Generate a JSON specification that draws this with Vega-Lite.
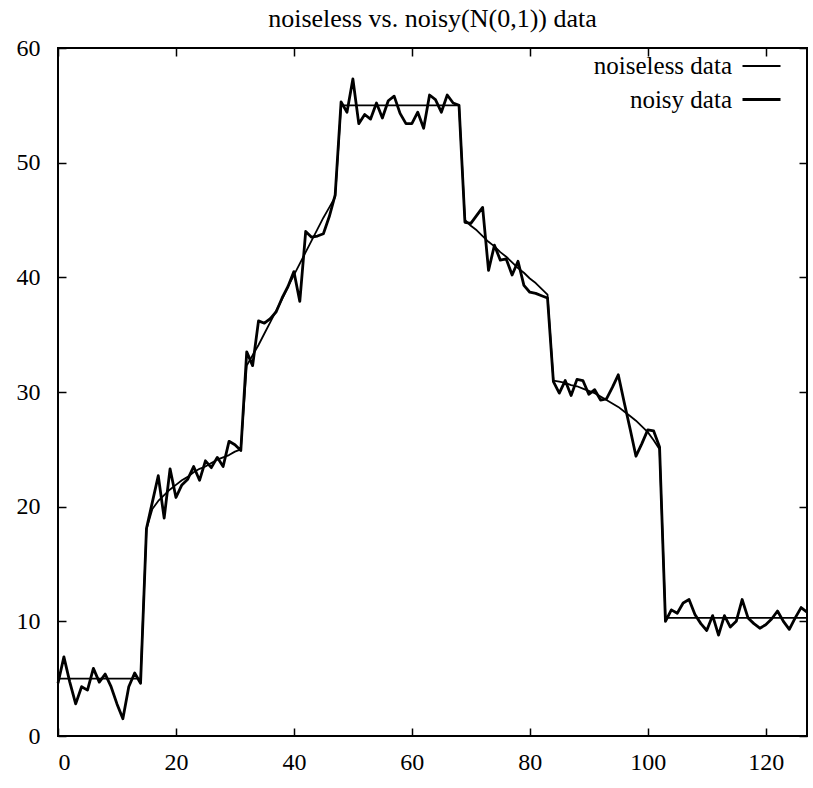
{
"$schema": "https://vega.github.io/schema/vega-lite/v6.json",
"width": 749, "height": 688,
"autosize": {"type": "none"},
"padding": {"left": 58, "top": 48, "right": 6, "bottom": 52},
"background": "white",
"title": {"text": "noiseless vs. noisy(N(0,1)) data", "font": "Liberation Serif", "fontSize": 26, "fontWeight": "normal", "color": "black", "offset": 4, "anchor": "middle"},
"config": {
  "view": {"stroke": "black", "strokeWidth": 2},
  "axis": {"domain": false, "grid": false, "ticks": true, "tickSize": -8, "tickColor": "black", "tickWidth": 1.5, "labelFont": "Liberation Serif", "labelFontSize": 24, "labelColor": "black", "title": null},
  "legend": {"orient": "none", "legendX": 683, "legendY": -2, "padding": 0, "title": null, "labelFont": "Liberation Serif", "labelFontSize": 25, "labelColor": "black", "symbolType": "stroke", "symbolSize": 1444, "symbolStrokeColor": "black", "labelAlign": "right", "labelOffset": -50, "rowPadding": -24, "labelBaseline": "middle"}
},
"datasets": {"pts": [
{"x":0,"y":5,"series":"noiseless data"},{"x":1,"y":5,"series":"noiseless data"},{"x":2,"y":5,"series":"noiseless data"},{"x":3,"y":5,"series":"noiseless data"},{"x":4,"y":5,"series":"noiseless data"},{"x":5,"y":5,"series":"noiseless data"},{"x":6,"y":5,"series":"noiseless data"},{"x":7,"y":5,"series":"noiseless data"},{"x":8,"y":5,"series":"noiseless data"},{"x":9,"y":5,"series":"noiseless data"},{"x":10,"y":5,"series":"noiseless data"},{"x":11,"y":5,"series":"noiseless data"},{"x":12,"y":5,"series":"noiseless data"},{"x":13,"y":5,"series":"noiseless data"},{"x":14,"y":5,"series":"noiseless data"},
{"x":15,"y":18.0,"series":"noiseless data"},{"x":16,"y":19.8,"series":"noiseless data"},{"x":17,"y":20.5,"series":"noiseless data"},{"x":18,"y":21.0,"series":"noiseless data"},{"x":19,"y":21.5,"series":"noiseless data"},{"x":20,"y":21.9,"series":"noiseless data"},{"x":21,"y":22.3,"series":"noiseless data"},{"x":22,"y":22.6,"series":"noiseless data"},{"x":23,"y":23.0,"series":"noiseless data"},{"x":24,"y":23.3,"series":"noiseless data"},{"x":25,"y":23.5,"series":"noiseless data"},{"x":26,"y":23.8,"series":"noiseless data"},{"x":27,"y":24.1,"series":"noiseless data"},{"x":28,"y":24.3,"series":"noiseless data"},{"x":29,"y":24.5,"series":"noiseless data"},{"x":30,"y":24.8,"series":"noiseless data"},{"x":31,"y":25.0,"series":"noiseless data"},
{"x":32,"y":32.3,"series":"noiseless data"},{"x":33,"y":33.2,"series":"noiseless data"},{"x":34,"y":34.1,"series":"noiseless data"},{"x":35,"y":35.1,"series":"noiseless data"},{"x":36,"y":36.1,"series":"noiseless data"},{"x":37,"y":37.1,"series":"noiseless data"},{"x":38,"y":38.1,"series":"noiseless data"},{"x":39,"y":39.2,"series":"noiseless data"},{"x":40,"y":40.2,"series":"noiseless data"},{"x":41,"y":41.2,"series":"noiseless data"},{"x":42,"y":42.2,"series":"noiseless data"},{"x":43,"y":43.2,"series":"noiseless data"},{"x":44,"y":44.2,"series":"noiseless data"},{"x":45,"y":45.2,"series":"noiseless data"},{"x":46,"y":46.1,"series":"noiseless data"},{"x":47,"y":47.0,"series":"noiseless data"},
{"x":48,"y":55,"series":"noiseless data"},{"x":49,"y":55,"series":"noiseless data"},{"x":50,"y":55,"series":"noiseless data"},{"x":51,"y":55,"series":"noiseless data"},{"x":52,"y":55,"series":"noiseless data"},{"x":53,"y":55,"series":"noiseless data"},{"x":54,"y":55,"series":"noiseless data"},{"x":55,"y":55,"series":"noiseless data"},{"x":56,"y":55,"series":"noiseless data"},{"x":57,"y":55,"series":"noiseless data"},{"x":58,"y":55,"series":"noiseless data"},{"x":59,"y":55,"series":"noiseless data"},{"x":60,"y":55,"series":"noiseless data"},{"x":61,"y":55,"series":"noiseless data"},{"x":62,"y":55,"series":"noiseless data"},{"x":63,"y":55,"series":"noiseless data"},{"x":64,"y":55,"series":"noiseless data"},{"x":65,"y":55,"series":"noiseless data"},{"x":66,"y":55,"series":"noiseless data"},{"x":67,"y":55,"series":"noiseless data"},{"x":68,"y":55,"series":"noiseless data"},
{"x":69,"y":45.0,"series":"noiseless data"},{"x":70,"y":44.5,"series":"noiseless data"},{"x":71,"y":44.1,"series":"noiseless data"},{"x":72,"y":43.6,"series":"noiseless data"},{"x":73,"y":43.1,"series":"noiseless data"},{"x":74,"y":42.7,"series":"noiseless data"},{"x":75,"y":42.2,"series":"noiseless data"},{"x":76,"y":41.8,"series":"noiseless data"},{"x":77,"y":41.3,"series":"noiseless data"},{"x":78,"y":40.8,"series":"noiseless data"},{"x":79,"y":40.4,"series":"noiseless data"},{"x":80,"y":39.9,"series":"noiseless data"},{"x":81,"y":39.5,"series":"noiseless data"},{"x":82,"y":39.0,"series":"noiseless data"},{"x":83,"y":38.5,"series":"noiseless data"},
{"x":84,"y":31.0,"series":"noiseless data"},{"x":85,"y":30.9,"series":"noiseless data"},{"x":86,"y":30.8,"series":"noiseless data"},{"x":87,"y":30.6,"series":"noiseless data"},{"x":88,"y":30.5,"series":"noiseless data"},{"x":89,"y":30.3,"series":"noiseless data"},{"x":90,"y":30.1,"series":"noiseless data"},{"x":91,"y":29.9,"series":"noiseless data"},{"x":92,"y":29.6,"series":"noiseless data"},{"x":93,"y":29.3,"series":"noiseless data"},{"x":94,"y":29.0,"series":"noiseless data"},{"x":95,"y":28.7,"series":"noiseless data"},{"x":96,"y":28.3,"series":"noiseless data"},{"x":97,"y":27.9,"series":"noiseless data"},{"x":98,"y":27.5,"series":"noiseless data"},{"x":99,"y":27.0,"series":"noiseless data"},{"x":100,"y":26.5,"series":"noiseless data"},{"x":101,"y":25.8,"series":"noiseless data"},{"x":102,"y":25.0,"series":"noiseless data"},
{"x":103,"y":10.3,"series":"noiseless data"},{"x":104,"y":10.3,"series":"noiseless data"},{"x":105,"y":10.3,"series":"noiseless data"},{"x":106,"y":10.3,"series":"noiseless data"},{"x":107,"y":10.3,"series":"noiseless data"},{"x":108,"y":10.3,"series":"noiseless data"},{"x":109,"y":10.3,"series":"noiseless data"},{"x":110,"y":10.3,"series":"noiseless data"},{"x":111,"y":10.3,"series":"noiseless data"},{"x":112,"y":10.3,"series":"noiseless data"},{"x":113,"y":10.3,"series":"noiseless data"},{"x":114,"y":10.3,"series":"noiseless data"},{"x":115,"y":10.3,"series":"noiseless data"},{"x":116,"y":10.3,"series":"noiseless data"},{"x":117,"y":10.3,"series":"noiseless data"},{"x":118,"y":10.3,"series":"noiseless data"},{"x":119,"y":10.3,"series":"noiseless data"},{"x":120,"y":10.3,"series":"noiseless data"},{"x":121,"y":10.3,"series":"noiseless data"},{"x":122,"y":10.3,"series":"noiseless data"},{"x":123,"y":10.3,"series":"noiseless data"},{"x":124,"y":10.3,"series":"noiseless data"},{"x":125,"y":10.3,"series":"noiseless data"},{"x":126,"y":10.3,"series":"noiseless data"},{"x":127,"y":10.3,"series":"noiseless data"},
{"x":0,"y":4.6,"series":"noisy data"},{"x":1,"y":6.9,"series":"noisy data"},{"x":2,"y":4.7,"series":"noisy data"},{"x":3,"y":2.8,"series":"noisy data"},{"x":4,"y":4.3,"series":"noisy data"},{"x":5,"y":4.0,"series":"noisy data"},{"x":6,"y":5.9,"series":"noisy data"},{"x":7,"y":4.7,"series":"noisy data"},{"x":8,"y":5.4,"series":"noisy data"},{"x":9,"y":4.3,"series":"noisy data"},{"x":10,"y":2.8,"series":"noisy data"},{"x":11,"y":1.5,"series":"noisy data"},{"x":12,"y":4.3,"series":"noisy data"},{"x":13,"y":5.5,"series":"noisy data"},{"x":14,"y":4.6,"series":"noisy data"},
{"x":15,"y":18.1,"series":"noisy data"},{"x":16,"y":20.4,"series":"noisy data"},{"x":17,"y":22.7,"series":"noisy data"},{"x":18,"y":19.0,"series":"noisy data"},{"x":19,"y":23.3,"series":"noisy data"},{"x":20,"y":20.8,"series":"noisy data"},{"x":21,"y":21.9,"series":"noisy data"},{"x":22,"y":22.4,"series":"noisy data"},{"x":23,"y":23.5,"series":"noisy data"},{"x":24,"y":22.3,"series":"noisy data"},{"x":25,"y":24.0,"series":"noisy data"},{"x":26,"y":23.4,"series":"noisy data"},{"x":27,"y":24.3,"series":"noisy data"},{"x":28,"y":23.5,"series":"noisy data"},{"x":29,"y":25.7,"series":"noisy data"},{"x":30,"y":25.4,"series":"noisy data"},{"x":31,"y":24.9,"series":"noisy data"},
{"x":32,"y":33.5,"series":"noisy data"},{"x":33,"y":32.3,"series":"noisy data"},{"x":34,"y":36.2,"series":"noisy data"},{"x":35,"y":36.0,"series":"noisy data"},{"x":36,"y":36.4,"series":"noisy data"},{"x":37,"y":37.0,"series":"noisy data"},{"x":38,"y":38.2,"series":"noisy data"},{"x":39,"y":39.2,"series":"noisy data"},{"x":40,"y":40.5,"series":"noisy data"},{"x":41,"y":37.9,"series":"noisy data"},{"x":42,"y":44.0,"series":"noisy data"},{"x":43,"y":43.5,"series":"noisy data"},{"x":44,"y":43.6,"series":"noisy data"},{"x":45,"y":43.8,"series":"noisy data"},{"x":46,"y":45.3,"series":"noisy data"},{"x":47,"y":47.2,"series":"noisy data"},
{"x":48,"y":55.3,"series":"noisy data"},{"x":49,"y":54.4,"series":"noisy data"},{"x":50,"y":57.3,"series":"noisy data"},{"x":51,"y":53.4,"series":"noisy data"},{"x":52,"y":54.2,"series":"noisy data"},{"x":53,"y":53.8,"series":"noisy data"},{"x":54,"y":55.2,"series":"noisy data"},{"x":55,"y":53.9,"series":"noisy data"},{"x":56,"y":55.4,"series":"noisy data"},{"x":57,"y":55.8,"series":"noisy data"},{"x":58,"y":54.3,"series":"noisy data"},{"x":59,"y":53.4,"series":"noisy data"},{"x":60,"y":53.4,"series":"noisy data"},{"x":61,"y":54.4,"series":"noisy data"},{"x":62,"y":53.0,"series":"noisy data"},{"x":63,"y":55.9,"series":"noisy data"},{"x":64,"y":55.5,"series":"noisy data"},{"x":65,"y":54.4,"series":"noisy data"},{"x":66,"y":55.9,"series":"noisy data"},{"x":67,"y":55.2,"series":"noisy data"},{"x":68,"y":55.0,"series":"noisy data"},
{"x":69,"y":44.8,"series":"noisy data"},{"x":70,"y":44.7,"series":"noisy data"},{"x":71,"y":45.4,"series":"noisy data"},{"x":72,"y":46.1,"series":"noisy data"},{"x":73,"y":40.6,"series":"noisy data"},{"x":74,"y":42.8,"series":"noisy data"},{"x":75,"y":41.5,"series":"noisy data"},{"x":76,"y":41.6,"series":"noisy data"},{"x":77,"y":40.2,"series":"noisy data"},{"x":78,"y":41.4,"series":"noisy data"},{"x":79,"y":39.3,"series":"noisy data"},{"x":80,"y":38.7,"series":"noisy data"},{"x":81,"y":38.6,"series":"noisy data"},{"x":82,"y":38.4,"series":"noisy data"},{"x":83,"y":38.2,"series":"noisy data"},
{"x":84,"y":30.9,"series":"noisy data"},{"x":85,"y":29.9,"series":"noisy data"},{"x":86,"y":31.0,"series":"noisy data"},{"x":87,"y":29.7,"series":"noisy data"},{"x":88,"y":31.1,"series":"noisy data"},{"x":89,"y":31.0,"series":"noisy data"},{"x":90,"y":29.8,"series":"noisy data"},{"x":91,"y":30.2,"series":"noisy data"},{"x":92,"y":29.3,"series":"noisy data"},{"x":93,"y":29.4,"series":"noisy data"},{"x":94,"y":30.4,"series":"noisy data"},{"x":95,"y":31.5,"series":"noisy data"},{"x":96,"y":29.1,"series":"noisy data"},{"x":97,"y":26.8,"series":"noisy data"},{"x":98,"y":24.4,"series":"noisy data"},{"x":99,"y":25.5,"series":"noisy data"},{"x":100,"y":26.7,"series":"noisy data"},{"x":101,"y":26.6,"series":"noisy data"},{"x":102,"y":25.2,"series":"noisy data"},
{"x":103,"y":10.0,"series":"noisy data"},{"x":104,"y":11.0,"series":"noisy data"},{"x":105,"y":10.7,"series":"noisy data"},{"x":106,"y":11.6,"series":"noisy data"},{"x":107,"y":11.9,"series":"noisy data"},{"x":108,"y":10.6,"series":"noisy data"},{"x":109,"y":9.8,"series":"noisy data"},{"x":110,"y":9.2,"series":"noisy data"},{"x":111,"y":10.5,"series":"noisy data"},{"x":112,"y":8.8,"series":"noisy data"},{"x":113,"y":10.5,"series":"noisy data"},{"x":114,"y":9.5,"series":"noisy data"},{"x":115,"y":10.0,"series":"noisy data"},{"x":116,"y":11.9,"series":"noisy data"},{"x":117,"y":10.3,"series":"noisy data"},{"x":118,"y":9.8,"series":"noisy data"},{"x":119,"y":9.4,"series":"noisy data"},{"x":120,"y":9.7,"series":"noisy data"},{"x":121,"y":10.2,"series":"noisy data"},{"x":122,"y":10.9,"series":"noisy data"},{"x":123,"y":10.0,"series":"noisy data"},{"x":124,"y":9.3,"series":"noisy data"},{"x":125,"y":10.3,"series":"noisy data"},{"x":126,"y":11.2,"series":"noisy data"},{"x":127,"y":10.8,"series":"noisy data"}
]},
"data": {"name": "pts"},
"layer": [
  {
    "mark": {"type": "line", "strokeJoin": "round"},
    "encoding": {
      "x": {"field": "x", "type": "quantitative", "scale": {"domain": [0, 127], "nice": false, "zero": false}, "axis": {"orient": "bottom", "values": [0, 20, 40, 60, 80, 100, 120], "labelPadding": 22}},
      "y": {"field": "y", "type": "quantitative", "scale": {"domain": [0, 60], "nice": false}, "axis": {"orient": "left", "values": [0, 10, 20, 30, 40, 50, 60], "labelPadding": 26}},
      "color": {"field": "series", "type": "nominal", "scale": {"range": ["black", "black"]}},
      "strokeWidth": {"field": "series", "type": "nominal", "scale": {"range": [1.8, 2.8]}},
      "detail": {"field": "series"}
    }
  },
  {
    "mark": {"type": "line", "opacity": 0},
    "encoding": {
      "x": {"field": "x", "type": "quantitative", "axis": {"orient": "top", "values": [0, 20, 40, 60, 80, 100, 120], "labels": false}},
      "y": {"field": "y", "type": "quantitative", "axis": {"orient": "right", "values": [0, 10, 20, 30, 40, 50, 60], "labels": false}},
      "detail": {"field": "series"}
    }
  }
],
"resolve": {"axis": {"x": "independent", "y": "independent"}}
}
